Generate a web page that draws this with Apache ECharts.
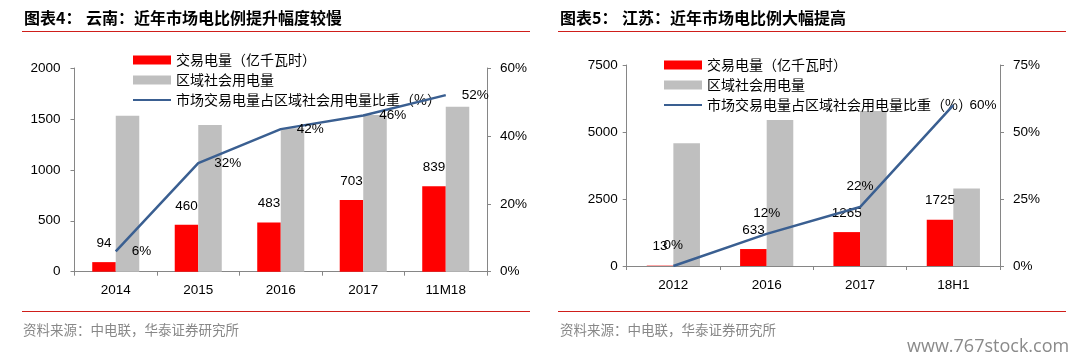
<!DOCTYPE html>
<html>
<head>
<meta charset="utf-8">
<script src="https://cdn.jsdelivr.net/npm/echarts@6/dist/echarts.min.js"></script>
<style>
html,body{margin:0;padding:0;background:#fff;}
#c{width:1087px;height:363px;}
</style>
</head>
<body>
<div id="c"></div>
<script>
// ---- data ----
const catsYN = ['2014', '2015', '2016', '2017', '11M18'];
const tradeYN = [94, 460, 483, 703, 839];
const totalYN = [1532, 1440, 1408, 1538, 1620];
const shareYN = [6, 32, 42, 46, 52];

const catsJS = ['2012', '2016', '2017', '18H1'];
const tradeJS = [13, 633, 1265, 1725];
const totalJS = [4580, 5450, 5780, 2890];
const shareJS = [0, 12, 22, 60];

const nameTrade = '交易电量（亿千瓦时）';
const nameTotal = '区域社会用电量';
const nameShare = '市场交易电量占区域社会用电量比重（%）';

const titleYN = ['图表4：', '云南：近年市场电比例提升幅度较慢'];
const titleJS = ['图表5：', '江苏：近年市场电比例大幅提高'];
const sourceText = '资料来源：中电联，华泰证券研究所';
const watermark = 'www.767stock.com';

// ---- styles ----
const RED = '#FF0000', GRAY = '#BFBFBF', BLUE = '#3A5F91', AXIS = '#868686';
const NUM_FONT = 'Liberation Sans, Arial, sans-serif';
const CJK_FONT = '"Noto Sans CJK SC", sans-serif';
const labelStyle = {color: '#000', fontSize: 13.5, fontFamily: NUM_FONT};

function xAxis(gi, cats) {
  return {
    type: 'category', gridIndex: gi, data: cats,
    axisLine: {lineStyle: {color: AXIS, width: 1}},
    axisTick: {show: true, length: 4, lineStyle: {color: AXIS}},
    axisLabel: Object.assign({margin: 12}, labelStyle),
    splitLine: {show: false}
  };
}
function yAxis(gi, pos, max, interval, pct, margin) {
  return {
    type: 'value', gridIndex: gi, position: pos, min: 0, max: max, interval: interval,
    axisLine: {show: true, lineStyle: {color: AXIS, width: 1}},
    axisTick: {show: true, length: 4, lineStyle: {color: AXIS}},
    axisLabel: Object.assign({margin: margin, formatter: v => pct ? v + '%' : String(v)}, labelStyle),
    splitLine: {show: false}
  };
}
function barSeries(name, xi, yi, data, color, withLabel) {
  return {
    name: name, type: 'bar', xAxisIndex: xi, yAxisIndex: yi, data: data,
    barWidth: '28.5%', barGap: '0%',
    itemStyle: {color: color},
    label: withLabel ? Object.assign({show: true, position: 'top', distance: 12}, labelStyle) : {show: false},
    emphasis: {disabled: true},
    z: 2
  };
}
function lineSeries(name, xi, yi, data, posFn) {
  return {
    name: name, type: 'line', xAxisIndex: xi, yAxisIndex: yi,
    data: data.map((v, i) => {
      const p = posFn(i, data.length);
      return {value: v, label: {show: true, position: p, distance: p === 'right' ? 16 : 14}};
    }),
    symbol: 'circle', showSymbol: true, symbolSize: 0.1,
    lineStyle: {color: BLUE, width: 2.5},
    itemStyle: {color: BLUE},
    label: Object.assign({show: true, formatter: '{c}%'}, labelStyle),
    labelLayout: {hideOverlap: false},
    emphasis: {disabled: true},
    z: 5
  };
}
function legend(left, top) {
  return {
    orient: 'vertical', left: left, top: top, padding: 0,
    itemWidth: 38, itemHeight: 9, itemGap: 6,
    selectedMode: false,
    textStyle: {fontFamily: CJK_FONT, fontSize: 14, color: '#000', lineHeight: 14},
    data: [
      {name: nameTrade, icon: 'rect'},
      {name: nameTotal, icon: 'rect'},
      {name: nameShare, itemStyle: {opacity: 0}}
    ]
  };
}

const redLine = '#CF1E1A';
function hline(x1, x2, y) {
  return {type: 'line', shape: {x1: x1, y1: y, x2: x2, y2: y}, style: {stroke: redLine, lineWidth: 1.2}, silent: true};
}
function txt(x, y, text, font, fill) {
  return {type: 'text', x: x, y: y, silent: true,
    style: {text: text, font: font, fill: fill, verticalAlign: 'middle'}};
}

const chart = echarts.init(document.getElementById('c'), null, {renderer: 'canvas'});
chart.setOption({
  animation: false,
  backgroundColor: '#fff',
  grid: [
    {left: 74.5, top: 68, width: 412.5, height: 203.7},
    {left: 626.7, top: 65, width: 373.3, height: 201}
  ],
  xAxis: [xAxis(0, catsYN), xAxis(1, catsJS)],
  yAxis: [
    yAxis(0, 'left', 2000, 500, false, 14),
    yAxis(0, 'right', 60, 20, true, 13),
    yAxis(1, 'left', 7500, 2500, false, 9),
    yAxis(1, 'right', 75, 25, true, 13)
  ],
  legend: [legend(132, 53), legend(663, 58)],
  series: [
    barSeries(nameTrade, 0, 0, tradeYN, RED, true),
    barSeries(nameTotal, 0, 0, totalYN, GRAY, false),
    lineSeries(nameShare, 0, 1, shareYN, () => 'right'),
    barSeries(nameTrade, 1, 2, tradeJS, RED, true),
    barSeries(nameTotal, 1, 2, totalJS, GRAY, false),
    lineSeries(nameShare, 1, 3, shareJS, (i, n) => i === n - 1 ? 'right' : 'top')
  ],
  graphic: [
    txt(24, 18, titleYN[0], 'bold 16px ' + CJK_FONT, '#000'),
    txt(86, 18, titleYN[1], 'bold 16px ' + CJK_FONT, '#000'),
    txt(560, 18, titleJS[0], 'bold 16px ' + CJK_FONT, '#000'),
    txt(622, 18, titleJS[1], 'bold 16px ' + CJK_FONT, '#000'),
    hline(22, 530, 31.5),
    hline(558, 1066, 31.5),
    hline(22, 530, 311.5),
    hline(558, 1066, 311.5),
    txt(23, 330, sourceText, '13.5px ' + CJK_FONT, '#888'),
    txt(560, 330, sourceText, '13.5px ' + CJK_FONT, '#888'),
    txt(907, 347, watermark, '18px "Liberation Sans Narrow", "Open Sans", sans-serif', '#8a8a8a')
  ]
});
</script>
</body>
</html>
